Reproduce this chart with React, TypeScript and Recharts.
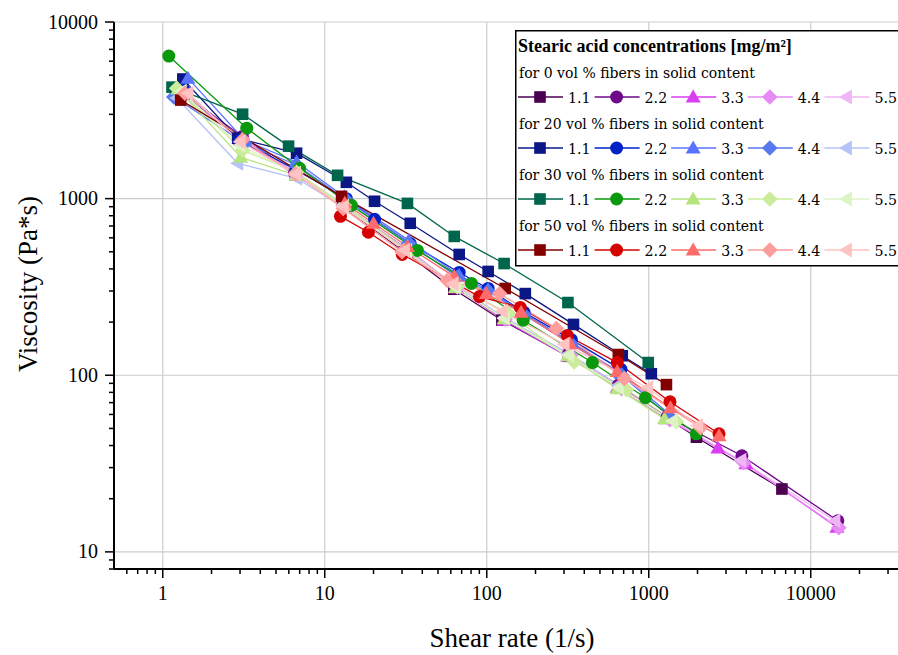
import React from 'react';
import { LineChart, Line, XAxis, YAxis, CartesianGrid, Legend, Label } from 'recharts';

// shear rate (1/s), viscosity (Pa*s)
type Pair = [number, number];

const concentrations = ['1.1', '2.2', '3.3', '4.4', '5.5'];
const groupTitles = [
  'for 0 vol % fibers in solid content',
  'for 20 vol % fibers in solid content',
  'for 30 vol % fibers in solid content',
  'for 50 vol % fibers in solid content',
];
const groupColors = [
  ['#4B0050', '#6E0A8A', '#DB3DF2', '#E68BF3', '#EFB6F6'],
  ['#0B1785', '#0021C6', '#5B72FF', '#5878F0', '#B7C3F6'],
  ['#00664B', '#0A990C', '#B5E57F', '#CBEC9B', '#DDF3C6'],
  ['#820000', '#D50000', '#FF6A6A', '#FF9C9C', '#FFC3C3'],
];
const shapes = ['square', 'circle', 'triangle', 'diamond', 'triLeft'];

const xMajor = [1, 10, 100, 1000, 10000];
const xTickLabels = ['1', '10', '100', '1000', '10000'];
const yMajor = [10, 100, 1000, 10000];
const yTickLabels = ['10', '100', '1000', '10000'];

// 0 vol %
const s0_11: Pair[] = [[1.35, 3900], [3.0, 2200], [6.6, 1380], [13, 900], [31, 500], [62.6, 307], [124, 205], [320, 128], [659, 86], [1970, 44.6], [6640, 22.7]];
const s0_22: Pair[] = [[1.3, 4000], [3.1, 2250], [6.5, 1400], [13, 920], [32, 520], [64, 318], [130, 210], [320, 132], [650, 88], [1300, 58], [3760, 35], [14700, 15]];
const s0_33: Pair[] = [[1.4, 3950], [3.0, 2150], [6.7, 1350], [13.5, 900], [32, 505], [65, 312], [128, 205], [316, 128], [639, 85.6], [1292, 56.8], [2673, 38.8], [3980, 31.5], [14500, 13.8]];
const s0_44: Pair[] = [[1.3, 3850], [3.1, 2180], [6.6, 1370], [13, 910], [33, 510], [66, 315], [130, 208], [330, 130], [680, 84], [1350, 56], [3860, 32], [14900, 13.7]];
const s0_55: Pair[] = [[1.35, 3950], [3.0, 2200], [6.8, 1390], [13.2, 920], [32, 515], [64, 320], [128, 210], [320, 131], [650, 86], [1320, 57], [3700, 33], [14100, 15]];

// 20 vol %
const s20_11: Pair[] = [[1.33, 4756], [2.9, 2198], [6.7, 1808], [13.6, 1237], [20.3, 966], [33.7, 725], [67.6, 483], [102, 387], [173, 290], [343, 194], [686, 129], [1037, 102]];
const s20_22: Pair[] = [[1.35, 4100], [3.0, 2140], [6.7, 1450], [13.6, 1000], [20.3, 764], [33.7, 557], [67.6, 382], [102, 310], [170, 227], [333, 159], [674, 108]];
const s20_33: Pair[] = [[1.43, 4808], [3.2, 2143], [6.7, 1610], [13.2, 1025], [33, 580], [67.6, 367], [102, 305], [170, 224], [333, 153], [674, 103], [1350, 60]];
const s20_44: Pair[] = [[1.17, 3758], [3.2, 2061], [6.7, 1550], [13.5, 990], [33, 560], [66, 360], [102, 300], [170, 220], [333, 150], [680, 100], [1350, 58]];
const s20_55: Pair[] = [[1.22, 3714], [2.9, 1585], [6.7, 1303], [13, 900], [32, 510], [64, 320], [128, 212], [320, 133], [650, 88]];

// 30 vol %
const s30_11: Pair[] = [[1.14, 4277], [3.11, 3006], [5.98, 1982], [12, 1355], [32.4, 940], [63, 611], [128, 429], [317, 258], [993, 118]];
const s30_22: Pair[] = [[1.09, 6412], [3.3, 2506], [7.0, 1486], [14.6, 916], [37.3, 509], [80.4, 331], [168, 205], [449, 118], [953, 74.6], [1967, 46.6]];
const s30_33: Pair[] = [[1.24, 4169], [3.03, 1714], [6.7, 1355], [13.2, 916], [32, 509], [64, 314], [128, 209], [316, 129], [639, 84], [1250, 56.8]];
const s30_44: Pair[] = [[1.22, 4214], [3.11, 1880], [6.7, 1410], [13.2, 916], [31, 509], [65.7, 318], [136, 224], [347, 119], [728, 82.8], [1480, 54.6]];
const s30_55: Pair[] = [[1.3, 4050], [3.0, 2000], [6.6, 1390], [13, 905], [32, 505], [64, 316], [128, 210], [320, 130], [650, 85], [1400, 55]];

// 50 vol %
const s50_11: Pair[] = [[1.29, 3614], [12.7, 1030], [130, 310], [649, 131], [1286, 88.5]];
const s50_22: Pair[] = [[12.5, 794], [18.6, 645], [30.1, 483], [90.2, 279], [161, 242], [314, 168], [639, 118], [1353, 70.8], [2716, 46.6]];
const s50_33: Pair[] = [[13.3, 940], [20, 725], [32.4, 536], [63, 362], [99.4, 290], [163, 227], [327, 151], [639, 105], [1362, 65.4], [2716, 45.4]];
const s50_44: Pair[] = [[1.37, 3950], [3.1, 2150], [6.6, 1380], [13, 880], [30, 500], [57, 344], [120, 290], [269, 184], [706, 95.7], [2087, 50.5]];
const s50_55: Pair[] = [[1.43, 3955], [3.0, 2100], [6.6, 1380], [13, 900], [31, 510], [62, 330], [125, 230], [300, 150], [986, 85], [2000, 52]];

const seriesGroups: Pair[][][] = [
  [s0_11, s0_22, s0_33, s0_44, s0_55],
  [s20_11, s20_22, s20_33, s20_44, s20_55],
  [s30_11, s30_22, s30_33, s30_44, s30_55],
  [s50_11, s50_22, s50_33, s50_44, s50_55],
];

const minorSteps = [2, 3, 4, 5, 6, 7, 8, 9];
const xTicks = [0.6, 0.7, 0.8, 0.9, ...[1, 10, 100, 1000, 10000].flatMap((d) => [d, ...minorSteps.map((m) => m * d)])];
const yTicks = [8, 9, ...[10, 100, 1000].flatMap((d) => [d, ...minorSteps.map((m) => m * d)]), 10000];

const serif = '"Liberation Serif", "Times New Roman", serif';
const legendFont = '"DejaVu Serif", serif';

const Marker = ({ cx, cy, shape, color }: { cx: number; cy: number; shape: string; color: string }) => {
  if (cx == null || cy == null) return null;
  switch (shape) {
    case 'square':
      return <rect x={cx - 5.8} y={cy - 5.8} width={11.6} height={11.6} fill={color} />;
    case 'circle':
      return <circle cx={cx} cy={cy} r={6.5} fill={color} />;
    case 'triangle':
      return <polygon points={`${cx},${cy - 7.5} ${cx + 7.5},${cy + 5.5} ${cx - 7.5},${cy + 5.5}`} fill={color} />;
    case 'diamond':
      return <polygon points={`${cx},${cy - 7.8} ${cx + 7.8},${cy} ${cx},${cy + 7.8} ${cx - 7.8},${cy}`} fill={color} />;
    default:
      return <polygon points={`${cx - 7.5},${cy} ${cx + 5.5},${cy - 7.5} ${cx + 5.5},${cy + 7.5}`} fill={color} />;
  }
};

const XTick = (props: any) => {
  const { x, y, payload } = props;
  const idx = xMajor.indexOf(payload.value);
  const major = idx >= 0;
  return (
    <g>
      <line x1={x} x2={x} y1={y} y2={y + (major ? 9 : 5)} stroke="#000" strokeWidth={1.5} />
      {major && (
        <text x={x} y={y + 31} textAnchor="middle" fontFamily={serif} fontSize={20} fill="#000">
          {xTickLabels[idx]}
        </text>
      )}
    </g>
  );
};

const YTick = (props: any) => {
  const { x, y, payload } = props;
  const idx = yMajor.indexOf(payload.value);
  const major = idx >= 0;
  return (
    <g>
      <line x1={x - (major ? 9 : 5)} x2={x} y1={y} y2={y} stroke="#000" strokeWidth={1.5} />
      {major && (
        <text x={x - 16} y={y + 6.5} textAnchor="end" fontFamily={serif} fontSize={20} fill="#000">
          {yTickLabels[idx]}
        </text>
      )}
    </g>
  );
};

const LegendBox = () => (
  <svg width={400} height={237} style={{ display: 'block' }} fontFamily={legendFont}>
    <rect x={0.75} y={0.75} width={398} height={235} fill="#fff" stroke="#000" strokeWidth={1.5} />
    <text x={3} y={22} fontSize={18} fontWeight="bold" fontFamily={serif} fill="#000">
      Stearic acid concentrations [mg/m²]
    </text>
    {groupTitles.map((title, gi) => (
      <g key={title}>
        <text x={4} y={48 + gi * 51} fontSize={14} fill="#000">
          {title}
        </text>
        {concentrations.map((c, ci) => {
          const x0 = 3 + ci * 76.6;
          const cy = 67 + gi * 51;
          const color = groupColors[gi][ci];
          return (
            <g key={c}>
              <line x1={x0} x2={x0 + 45} y1={cy} y2={cy} stroke={color} strokeWidth={1.3} />
              <Marker cx={x0 + 22} cy={cy} shape={shapes[ci]} color={color} />
              <text x={x0 + 50} y={cy + 5.5} fontSize={14.2} fill="#000">
                {c}
              </text>
            </g>
          );
        })}
      </g>
    ))}
  </svg>
);

export default function App() {
  return (
    <div style={{ position: 'absolute', left: 0, top: 0, width: 898, height: 655, overflow: 'hidden', background: '#fff' }}>
      <LineChart width={920} height={655} margin={{ top: 22, right: 10, bottom: 0, left: 0 }}>
        <CartesianGrid
          stroke="#cccccc"
          strokeWidth={1.2}
          verticalValues={xMajor}
          horizontalValues={yMajor}
        />
        <XAxis
          dataKey="x"
          type="number"
          scale="log"
          domain={[0.5, 41000]}
          allowDataOverflow
          ticks={xTicks}
          interval={0}
          height={86}
          tickSize={0}
          tickMargin={0}
          tickLine={false}
          tick={<XTick />}
          axisLine={{ stroke: '#000', strokeWidth: 2 }}
        >
          <Label
            value="Shear rate (1/s)"
            position="insideBottom"
            offset={8}
            style={{ fontFamily: serif, fontSize: 27, fill: '#000' }}
          />
        </XAxis>
        <XAxis
          xAxisId="top"
          orientation="top"
          dataKey="x"
          type="number"
          scale="log"
          domain={[0.5, 41000]}
          allowDataOverflow
          height={0}
          tick={false}
          tickLine={false}
          axisLine={{ stroke: '#000', strokeWidth: 1.5 }}
        />
        <YAxis
          type="number"
          scale="log"
          domain={[8, 10000]}
          allowDataOverflow
          ticks={yTicks}
          interval={0}
          width={114}
          tickSize={0}
          tickMargin={0}
          tickLine={false}
          tick={<YTick />}
          axisLine={{ stroke: '#000', strokeWidth: 2 }}
        >
          <Label
            content={() => (
              <text
                x={37}
                y={284}
                transform="rotate(-90 37 284)"
                textAnchor="middle"
                fontFamily={serif}
                fontSize={27}
                fill="#000"
              >
                Viscosity (Pa*s)
              </text>
            )}
          />
        </YAxis>
        {seriesGroups.map((group, gi) =>
          group.map((pairs, ci) => {
            const color = groupColors[gi][ci];
            const name = `${gi}-${concentrations[ci]}`;
            return (
              <Line
                key={name}
                name={name}
                data={pairs.map(([x, y]) => ({ x, y }))}
                dataKey="y"
                stroke={color}
                strokeWidth={1.3}
                isAnimationActive={false}
                activeDot={false}
                dot={(p: any) => (
                  <Marker key={`${name}-${p.index}`} cx={p.cx} cy={p.cy} shape={shapes[ci]} color={color} />
                )}
              />
            );
          })
        )}
        <Legend
          layout="vertical"
          align="center"
          verticalAlign="middle"
          wrapperStyle={{ left: 515, top: 30, width: 400, height: 237 }}
          content={() => <LegendBox />}
        />
      </LineChart>
    </div>
  );
}
